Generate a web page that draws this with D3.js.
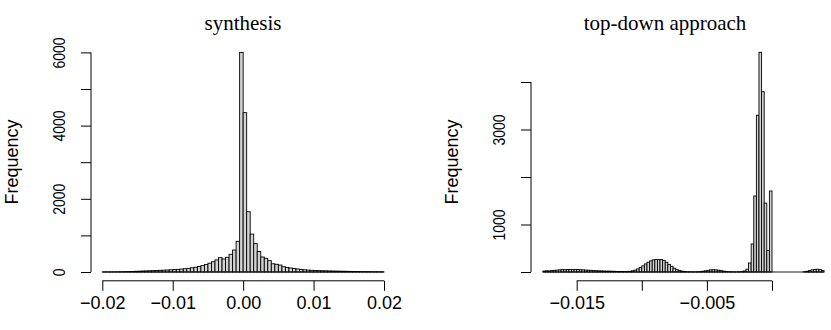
<!DOCTYPE html>
<html>
<head>
<meta charset="utf-8">
<script src="https://cdn.jsdelivr.net/npm/d3@7"></script>
<style>
body{margin:0;background:#fff;}
</style>
</head>
<body>
<svg id="chart"></svg>
<script>
// histogram of the synthesis errors, bins of 0.0005 starting at -0.02
var synthStart = -0.02;
var synthWidth = 0.0005;
var synthCounts = [2,3,3,4,5,8,10,12,15,18,22,
    26,30,34,38,42,46,50,55,60,66,
    72,80,90,100,115,130,150,175,205,240,
    280,330,392,355,400,483,601,838,
    6000,
    4354,1648,1035,775,560,410,373,310,225,210,
    190,145,125,110,95,82,70,60,52,46,
    42,38,35,32,29,26,24,22,20,18,
    16,14,13,11,10,9,8,7,6,5];

// histogram of the top-down errors, bins of 0.0002 starting at -0.0176
var topDownStart = -0.0176;
var topDownWidth = 0.0002;
var topDownCounts = [20,25,22,30,35,40,45,50,48,52,55,50,55,52,48,45,40,38,35,30,28,25,22,20,18,18,15,15,12,12,10,10,12,
    15,25,40,65,95,130,170,205,235,255,265,260,262,245,205,160,120,80,50,30,18,10,6,
    4,3,3,5,8,15,25,35,45,48,45,38,28,18,10,6,4,3,3,5,10,22,60,190,
    590,1600,3300,4625,3796,1450,455,1705,
    0,0,0,0,0,0,0,0,0,0,0,0,
    5,15,30,45,55,58,50,30];

var synthXTicks = [-0.02,-0.01,0,0.01,0.02];
var synthXLabels = ["\u22120.02","\u22120.01","0.00","0.01","0.02"];
var synthYTicks = [0,1000,2000,3000,4000,5000,6000];
var synthYLabels = ["0","","2000","","4000","","6000"];

var topDownXTicks = [-0.015,-0.010,-0.005,0];
var topDownXLabels = ["\u22120.015","","\u22120.005",""];
var topDownYTicks = [0,1000,2000,3000,4000];
var topDownYLabels = ["","1000","","3000",""];

var svg = d3.select("#chart")
    .attr("width",831)
    .attr("height",330);

var axisY = 280.8;
var sansFont = "'Liberation Sans', Arial, sans-serif";

// draws one histogram panel with R-like axes
var drawPanel = function(p)
{
    var bins = p.counts.map(function(c,i)
    {
        return {x0:p.start+i*p.width, x1:p.start+(i+1)*p.width, count:c};
    });

    var g = svg.append("g");
    g.selectAll("rect")
        .data(bins)
        .enter()
        .append("rect")
        .attr("x",function(b){return p.x(b.x0);})
        .attr("width",function(b){return p.x(b.x1)-p.x(b.x0);})
        .attr("y",function(b){return p.y(b.count);})
        .attr("height",function(b){return p.y(0)-p.y(b.count);})
        .attr("fill","#d3d3d3")
        .attr("stroke","#000")
        .attr("stroke-width",0.9);

    // empty bins still leave their bottom edge
    g.append("line")
        .attr("x1",p.x(bins[0].x0))
        .attr("x2",p.x(bins[bins.length-1].x1))
        .attr("y1",p.y(0))
        .attr("y2",p.y(0))
        .attr("stroke","#000")
        .attr("stroke-width",0.9);

    // x axis
    var xAxis = d3.axisBottom(p.x)
        .tickValues(p.xTicks)
        .tickSize(10)
        .tickSizeOuter(0)
        .tickFormat(function(d,i){return p.xLabels[i];});
    var gx = svg.append("g")
        .attr("transform","translate(0,"+axisY+")")
        .call(xAxis);
    gx.select(".domain")
        .attr("d","M"+p.x(p.xTicks[0])+",0H"+p.x(p.xTicks[p.xTicks.length-1]));
    gx.attr("font-family",sansFont)
        .attr("font-size",18);
    gx.selectAll("text").attr("y",15).attr("dy","0.72em").attr("fill","#000");
    gx.selectAll("line,path").attr("stroke","#000");

    // y axis
    var yAxis = d3.axisLeft(p.y)
        .tickValues(p.yTicks)
        .tickSize(10)
        .tickSizeOuter(0)
        .tickFormat(function(d,i){return p.yLabels[i];});
    var gy = svg.append("g")
        .attr("transform","translate("+p.axisX+",0)")
        .call(yAxis);
    gy.select(".domain")
        .attr("d","M0,"+p.y(p.yTicks[0])+"V"+p.y(p.yTicks[p.yTicks.length-1]));
    gy.attr("font-family",sansFont)
        .attr("font-size",17);
    gy.selectAll("text")
        .attr("x",0)
        .attr("dy",0)
        .attr("text-anchor","middle")
        .attr("transform","translate(-26,0) rotate(-90) scale(0.82,1)")
        .attr("fill","#000");
    gy.selectAll("line,path").attr("stroke","#000");

    svg.append("text")
        .attr("transform","translate("+(p.axisX-73)+",162) rotate(-90)")
        .attr("text-anchor","middle")
        .attr("font-family",sansFont)
        .attr("font-size",18)
        .text("Frequency");

    svg.append("text")
        .attr("x",p.titleX)
        .attr("y",30)
        .attr("text-anchor","middle")
        .attr("font-family","'Liberation Serif', serif")
        .attr("font-size",21)
        .text(p.title);
}

drawPanel({
    counts:synthCounts, start:synthStart, width:synthWidth,
    x:d3.scaleLinear().domain([-0.02,0.02]).range([102.3,384]),
    y:d3.scaleLinear().domain([0,6000]).range([272,52.4]),
    xTicks:synthXTicks, xLabels:synthXLabels,
    yTicks:synthYTicks, yLabels:synthYLabels,
    axisX:91, title:"synthesis", titleX:243
});

drawPanel({
    counts:topDownCounts, start:topDownStart, width:topDownWidth,
    x:d3.scaleLinear().domain([-0.015,0]).range([576.7,772]),
    y:d3.scaleLinear().domain([0,4000]).range([272,82]),
    xTicks:topDownXTicks, xLabels:topDownXLabels,
    yTicks:topDownYTicks, yLabels:topDownYLabels,
    axisX:531, title:"top-down approach", titleX:665
});
</script>
</body>
</html>
